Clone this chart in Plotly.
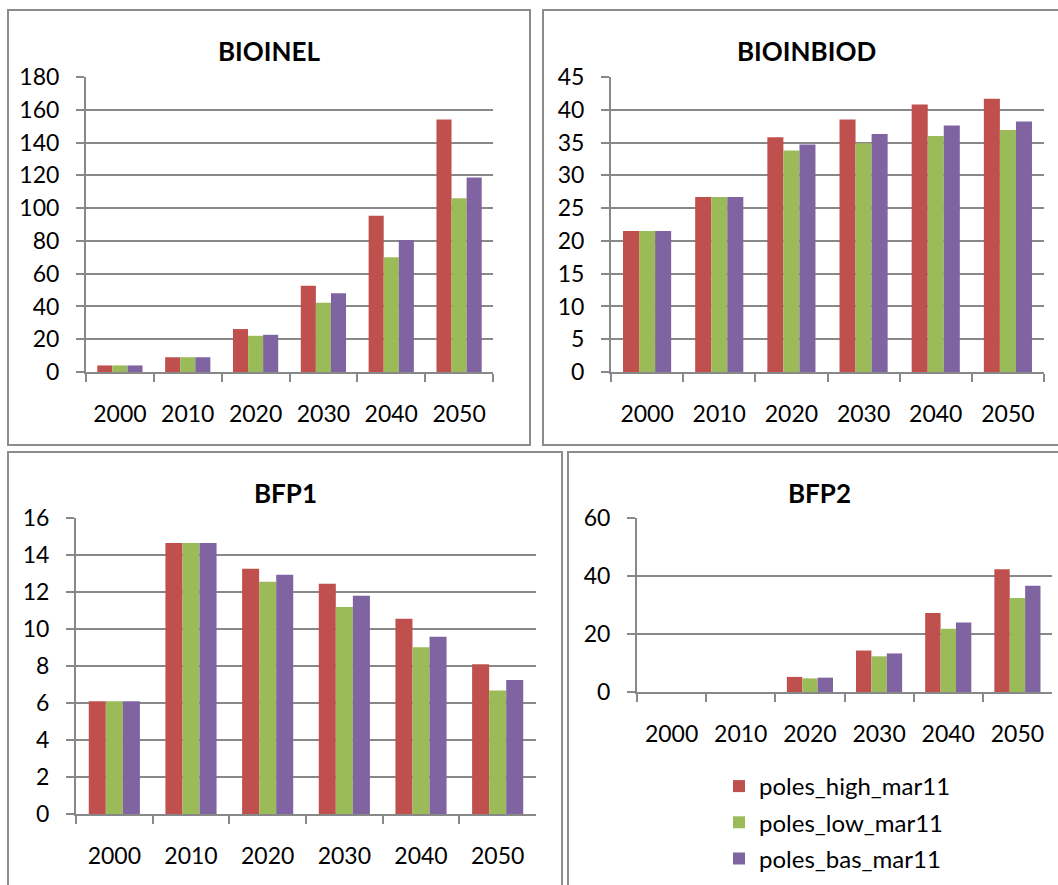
import plotly.graph_objects as go

# Datos
years = ["2000", "2010", "2020", "2030", "2040", "2050"]
series_names = ["poles_high_mar11", "poles_low_mar11", "poles_bas_mar11"]
colors = ["#C0504D", "#9BBB59", "#8064A2"]

bioinel_high = [4, 9, 26.2, 52.7, 95.3, 154]
bioinel_low = [4, 9, 22.1, 42.2, 70, 106]
bioinel_bas = [4, 9, 22.7, 48.1, 80.5, 118.7]

bioinbiod_high = [21.5, 26.7, 35.8, 38.5, 40.8, 41.7]
bioinbiod_low = [21.5, 26.7, 33.8, 34.9, 36.0, 36.9]
bioinbiod_bas = [21.5, 26.7, 34.7, 36.3, 37.6, 38.2]

bfp1_high = [6.1, 14.65, 13.26, 12.45, 10.55, 8.1]
bfp1_low = [6.1, 14.65, 12.55, 11.19, 9.02, 6.67]
bfp1_bas = [6.1, 14.65, 12.93, 11.8, 9.58, 7.25]

bfp2_high = [0, 0, 5.2, 14.3, 27.2, 42.3]
bfp2_low = [0, 0, 4.7, 12.3, 21.8, 32.4]
bfp2_bas = [0, 0, 4.95, 13.3, 24.0, 36.6]

W, H = 1058, 885
FONT = "Lato, Carlito, Calibri, sans-serif"
GRID = "#888888"

# paneles: titulo, series, caja (px), area de grafico (px), rango y, paso
panels = [
    ("BIOINEL", [bioinel_high, bioinel_low, bioinel_bas],
     (8, 10, 530, 445), (86, 77, 493, 372), 180, 20),
    ("BIOINBIOD", [bioinbiod_high, bioinbiod_low, bioinbiod_bas],
     (543, 10, 1070, 445), (611, 77, 1044, 372), 45, 5),
    ("BFP1", [bfp1_high, bfp1_low, bfp1_bas],
     (8, 452, 562, 900), (76, 518, 536, 814), 16, 2),
    ("BFP2", [bfp2_high, bfp2_low, bfp2_bas],
     (568, 452, 1070, 900), (637, 518, 1052, 692), 60, 20),
]

fig = go.Figure()
layout = dict(
    width=W, height=H, autosize=False,
    margin=dict(l=0, r=0, t=0, b=0),
    paper_bgcolor="white", plot_bgcolor="white",
    barmode="group", bargap=0.333, bargroupgap=0,
    font=dict(family=FONT, size=23, color="black"),
    shapes=[], annotations=[],
)

for i, (title, vals, box, area, ymax, step) in enumerate(panels):
    n = "" if i == 0 else str(i + 1)
    for j in range(3):
        fig.add_trace(go.Bar(
            x=years, y=vals[j], name=series_names[j],
            marker=dict(color=colors[j], line=dict(width=0)),
            xaxis="x" + n, yaxis="y" + n,
            showlegend=(i == 0), legendgroup=series_names[j],
        ))
    x0, y0, x1, y1 = area
    layout["xaxis" + n] = dict(
        domain=[x0 / W, x1 / W], anchor="y" + n, type="category",
        showline=True, linecolor=GRID, linewidth=2,
        ticks="outside", tickson="boundaries", ticklen=8, tickwidth=2, tickcolor=GRID,
        showgrid=False, ticklabelstandoff=20, automargin=False,
        tickfont=dict(size=23), fixedrange=True,
    )
    layout["yaxis" + n] = dict(
        domain=[1 - y1 / H, 1 - y0 / H], anchor="x" + n,
        range=[0, ymax], dtick=step, tick0=0,
        showline=True, linecolor=GRID, linewidth=2,
        ticks="outside", ticklen=8, tickwidth=2, tickcolor=GRID,
        showgrid=True, gridcolor=GRID, gridwidth=2, zeroline=False,
        ticklabelstandoff=12, automargin=False,
        tickfont=dict(size=23), fixedrange=True,
    )
    bx0, by0, bx1, by1 = box
    layout["shapes"].append(dict(
        type="rect", xref="paper", yref="paper",
        x0=bx0 / W, x1=bx1 / W, y0=1 - by1 / H, y1=1 - by0 / H,
        line=dict(color="#8c8c8c", width=2), fillcolor="rgba(0,0,0,0)",
    ))
    layout["annotations"].append(dict(
        text="<b>" + title + "</b>", xref="paper", yref="paper",
        x=(bx0 + min(bx1, 1070)) / 2 / W, y=1 - (by0 + 41) / H,
        xanchor="center", yanchor="middle", showarrow=False,
        font=dict(family=FONT, size=26, color="black"),
    ))

layout["legend"] = dict(
    x=719 / W, y=1 - 764 / H, xanchor="left", yanchor="top",
    font=dict(family=FONT, size=24), bgcolor="rgba(0,0,0,0)",
    tracegroupgap=2, itemsizing="constant",
)

fig.update_layout(**layout)
fig.write_html("out.html", config={"displayModeBar": False},
               post_script="document.body.style.margin='0';")
